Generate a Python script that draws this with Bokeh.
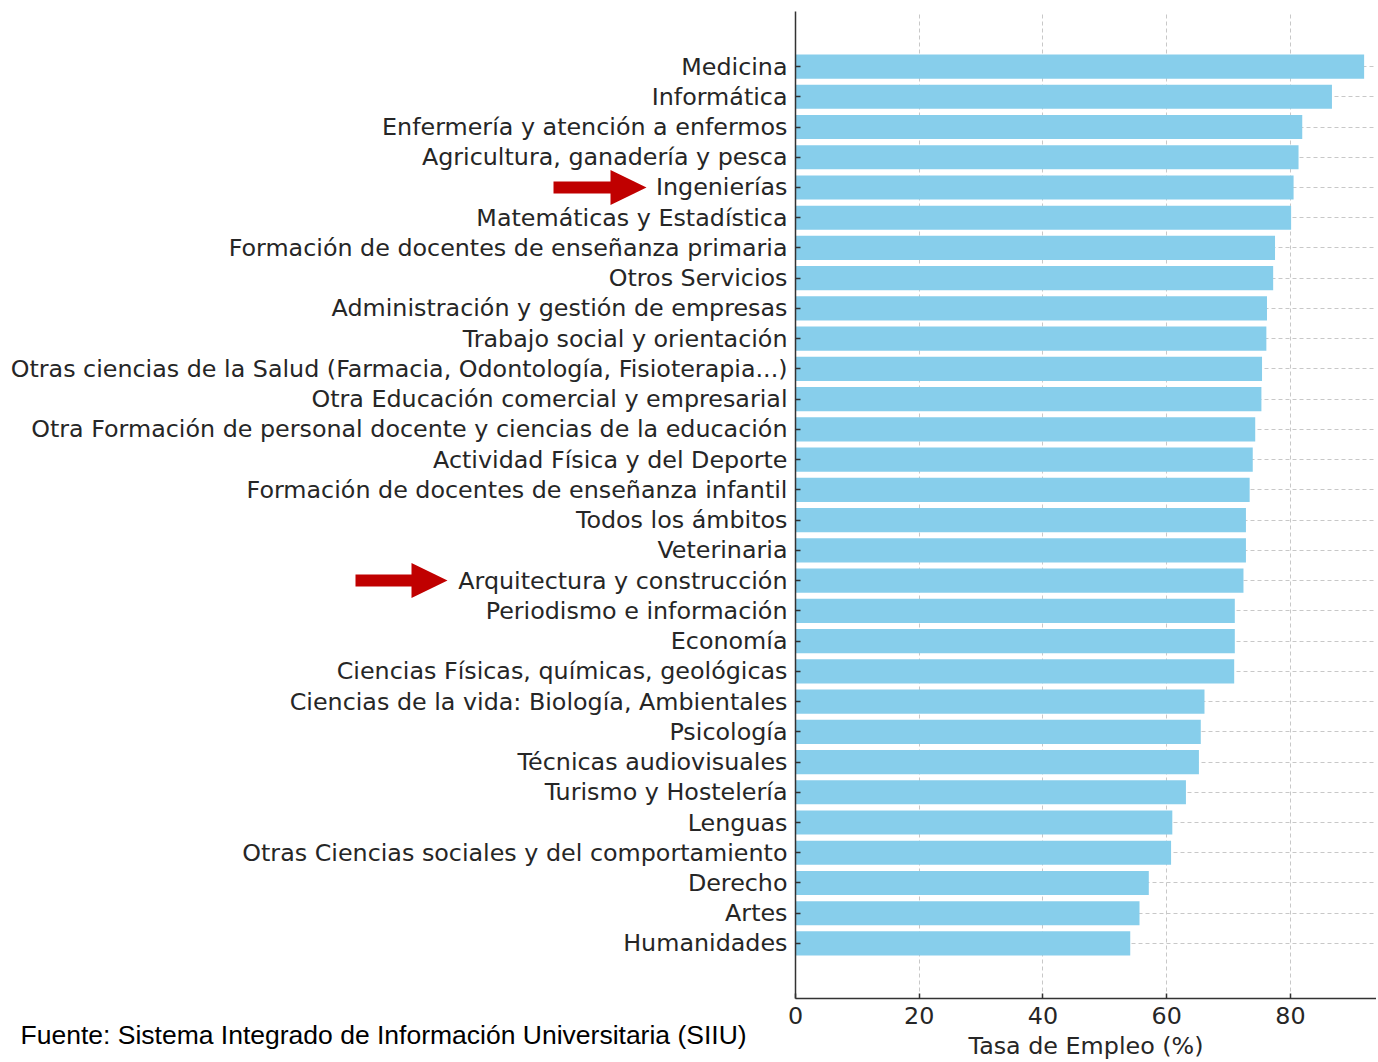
from bokeh.plotting import figure
from bokeh.models import FactorRange, Range1d, FixedTicker
from bokeh.core.properties import value
from bokeh.embed import file_html
from bokeh.resources import INLINE

# ---- data (top to bottom as in the chart) ----
categories = [
    "Medicina",
    "Informática",
    "Enfermería y atención a enfermos",
    "Agricultura, ganadería y pesca",
    "Ingenierías",
    "Matemáticas y Estadística",
    "Formación de docentes de enseñanza primaria",
    "Otros Servicios",
    "Administración y gestión de empresas",
    "Trabajo social y orientación",
    "Otras ciencias de la Salud (Farmacia, Odontología, Fisioterapia...)",
    "Otra Educación comercial y empresarial",
    "Otra Formación de personal docente y ciencias de la educación",
    "Actividad Física y del Deporte",
    "Formación de docentes de enseñanza infantil",
    "Todos los ámbitos",
    "Veterinaria",
    "Arquitectura y construcción",
    "Periodismo e información",
    "Economía",
    "Ciencias Físicas, químicas, geológicas",
    "Ciencias de la vida: Biología, Ambientales",
    "Psicología",
    "Técnicas audiovisuales",
    "Turismo y Hostelería",
    "Lenguas",
    "Otras Ciencias sociales y del comportamiento",
    "Derecho",
    "Artes",
    "Humanidades",
]
tasa_empleo = [
    91.9, 86.7, 81.9, 81.3, 80.5, 80.1, 77.5, 77.2, 76.2, 76.1,
    75.4, 75.3, 74.3, 73.9, 73.4, 72.8, 72.8, 72.4, 71.0, 71.0,
    70.9, 66.1, 65.5, 65.2, 63.1, 60.9, 60.7, 57.1, 55.6, 54.1,
]
x_ticks = [0, 20, 40, 60, 80]
x_axis_label = "Tasa de Empleo (%)"
source_note = "Fuente: Sistema Integrado de Información Universitaria (SIIU)"

BAR_COLOR = "#87CEEB"
ARROW_COLOR = "#C00000"
TEXT_COLOR = "#262626"
FONT = "DejaVu Sans"
FONT_SIZE = "23.8px"
W, H = 1376, 1062

p = figure(
    width=W, height=H,
    y_range=FactorRange(*reversed(categories), range_padding=1.32,
                        range_padding_units="absolute"),
    x_range=Range1d(0, 93.9),
    output_backend="svg", toolbar_location=None,
    min_border_left=795, min_border_right=0,
    min_border_top=11, min_border_bottom=0,
)
p.outline_line_color = None
p.background_fill_color = "white"
p.border_fill_color = "white"

p.hbar(y=categories, right=tasa_empleo, left=0, height=0.8,
       fill_color=BAR_COLOR, line_color=None)

# grids
p.xgrid.ticker = FixedTicker(ticks=x_ticks)
p.xgrid.grid_line_color = "#c8c8c8"
p.xgrid.grid_line_dash = "4 3"
p.ygrid.grid_line_color = "#c8c8c8"
p.ygrid.grid_line_dash = "4 3"

# axes
p.xaxis.ticker = FixedTicker(ticks=x_ticks)
p.xaxis.axis_label = x_axis_label
for ax in (p.xaxis[0], p.yaxis[0]):
    ax.axis_line_color = "#333333"
    ax.axis_line_width = 1.5
    ax.major_tick_in = 5
    ax.major_tick_out = 0
    ax.major_tick_line_color = "#333333"
    ax.major_tick_line_width = 1.5
    ax.minor_tick_line_color = None
    ax.major_label_text_font = FONT
    ax.major_label_text_font_size = FONT_SIZE
    ax.major_label_text_color = TEXT_COLOR
p.xaxis.major_label_standoff = 8
p.xaxis.axis_label_standoff = 5
p.xaxis.axis_label_text_font = FONT
p.xaxis.axis_label_text_font_size = FONT_SIZE
p.xaxis.axis_label_text_font_style = "normal"
p.xaxis.axis_label_text_color = TEXT_COLOR
p.yaxis.major_label_standoff = 8

# ---- transparent overlay (page-pixel coordinates) for the annotations
#      that sit outside the plot frame: red arrows and the source note ----
ov = figure(
    width=W, height=H,
    x_range=Range1d(0, W), y_range=Range1d(H, 0),
    x_axis_type=None, y_axis_type=None,
    output_backend="svg", toolbar_location=None, min_border=0,
    styles={"position": "absolute", "top": "0px", "left": "0px",
            "z-index": "10", "pointer-events": "none"},
)
ov.outline_line_color = None
ov.background_fill_alpha = 0
ov.border_fill_alpha = 0

# arrows: (tail x, head-base x, tip x, centre y)
arrows = [
    (553, 610, 646, 187),  # Ingenierías
    (355, 411, 447, 580),  # Arquitectura y construcción
]
SHAFT, HEAD = 6, 17.5
axs, ays = [], []
for xt, xb, xtip, yc in arrows:
    axs.append([xt, xb, xb, xtip, xb, xb, xt])
    ays.append([yc - SHAFT, yc - SHAFT, yc - HEAD, yc, yc + HEAD, yc + SHAFT, yc + SHAFT])
ov.patches(xs=axs, ys=ays, fill_color=ARROW_COLOR, line_color=None)

ov.text(x=[20], y=[1034], text=[source_note],
        text_font=value("Liberation Sans"), text_font_size=value("26.5px"),
        text_baseline="middle", text_align="left", text_color="black")

open("out.html", "w").write(file_html([p, ov], INLINE))
